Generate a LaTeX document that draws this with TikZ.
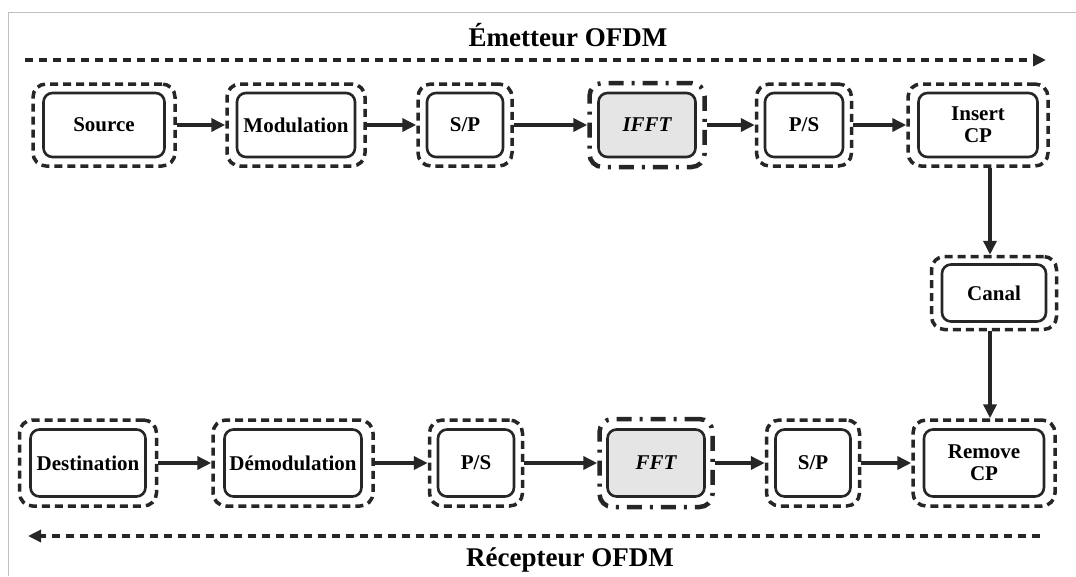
\documentclass[tikz,border=0pt]{standalone}
\usepackage{fontspec}
\setmainfont{Liberation Serif}
\usetikzlibrary{arrows.meta}
\tikzset{
  x=1pt, y=-1pt,
  inbox/.style={draw=black!85, line width=2.6pt, rounded corners=9pt, fill=white,
    font=\fontsize{21}{22}\selectfont\bfseries, align=center, inner sep=0pt},
  graybox/.style={inbox, fill=black!10, font=\fontsize{21}{22}\selectfont\bfseries\itshape},
  outbox/.style={draw=black!85, line width=3.5pt, rounded corners=13pt,
    dash pattern=on 8pt off 5pt, inner sep=0pt},
  ddbox/.style={draw=black!85, line width=4.5pt, rounded corners=13pt,
    dash pattern=on 15pt off 8pt on 3pt off 8pt, inner sep=0pt},
  flow/.style={draw=black!85, line width=4pt, -{Triangle[length=14pt,width=13pt]}},
  band/.style={draw=black!85, line width=3.5pt, dash pattern=on 8pt off 6pt,
    -{Triangle[length=13pt,width=12pt]}},
  title/.style={font=\fontsize{27}{29}\selectfont\bfseries},
}
\begin{document}
\begin{tikzpicture}
\useasboundingbox (0,0) rectangle (1076,576);
\fill[white] (0,0) rectangle (1076,576);
\draw[black!25, line width=1pt] (8,576) -- (8,12) -- (1076,12);

% titles and bands
\node[title] (tE) at (568,35) {Émetteur OFDM};
\node[title] (tR) at (570,560) {Récepteur OFDM};
\coordinate (bE1) at (25,60);
\coordinate (bE2) at (1046,60);
\coordinate (bR1) at (1040,536);
\coordinate (bR2) at (28,536);
\draw[band] (bE1) -- (bE2);
\draw[band] (bR1) -- (bR2);

% top row (y = 125)
\node[outbox, minimum width=142, minimum height=82] (srcO) at (104,125) {};
\node[inbox, minimum width=121, minimum height=64] (src) at (104,125) {Source};
\node[outbox, minimum width=138, minimum height=82] (modO) at (296,125) {};
\node[inbox, minimum width=118, minimum height=64] (mod) at (296,125) {Modulation};
\node[outbox, minimum width=94, minimum height=82] (spO) at (465,125) {};
\node[inbox, minimum width=76, minimum height=64] (sp) at (465,125) {S/P};
\node[ddbox, minimum width=115, minimum height=84] (ifftO) at (647,125) {};
\node[graybox, minimum width=97, minimum height=64] (ifft) at (647,125) {IFFT};
\node[outbox, minimum width=95, minimum height=82] (psO) at (804,125) {};
\node[inbox, minimum width=78, minimum height=64] (ps) at (804,125) {P/S};
\node[outbox, minimum width=140, minimum height=82] (insO) at (978,125) {};
\node[inbox, minimum width=119, minimum height=64] (ins) at (978,125) {Insert\\CP};

% channel
\node[outbox, minimum width=125, minimum height=73] (canO) at (994,293) {};
\node[inbox, minimum width=104, minimum height=57] (can) at (994,293) {Canal};

% bottom row (y = 463)
\node[outbox, minimum width=137, minimum height=86] (dstO) at (88,463) {};
\node[inbox, minimum width=115, minimum height=67] (dst) at (88,463) {Destination};
\node[outbox, minimum width=160, minimum height=86] (demO) at (293,463) {};
\node[inbox, minimum width=137, minimum height=67] (dem) at (293,463) {Démodulation};
\node[outbox, minimum width=93, minimum height=86] (ps2O) at (476,463) {};
\node[inbox, minimum width=76, minimum height=67] (ps2) at (476,463) {P/S};
\node[ddbox, minimum width=113, minimum height=88] (fftO) at (656,463) {};
\node[graybox, minimum width=97, minimum height=67] (fft) at (656,463) {FFT};
\node[outbox, minimum width=93, minimum height=86] (sp2O) at (813,463) {};
\node[inbox, minimum width=75, minimum height=67] (sp2) at (813,463) {S/P};
\node[outbox, minimum width=142, minimum height=86] (remO) at (984,463) {};
\node[inbox, minimum width=120, minimum height=67] (rem) at (984,463) {Remove\\CP};

% connectors
\draw[flow] (srcO) -- (modO);
\draw[flow] (modO) -- (spO);
\draw[flow] (spO) -- (ifftO);
\draw[flow] (ifftO) -- (psO);
\draw[flow] (psO) -- (insO);
\coordinate (vx) at (990,0);
\draw[flow] (insO.south -| vx) -- (canO.north -| vx);
\draw[flow] (canO.south -| vx) -- (remO.north -| vx);
\draw[flow] (dstO) -- (demO);
\draw[flow] (demO) -- (ps2O);
\draw[flow] (ps2O) -- (fftO);
\draw[flow] (fftO) -- (sp2O);
\draw[flow] (sp2O) -- (remO);
\end{tikzpicture}
\end{document}
